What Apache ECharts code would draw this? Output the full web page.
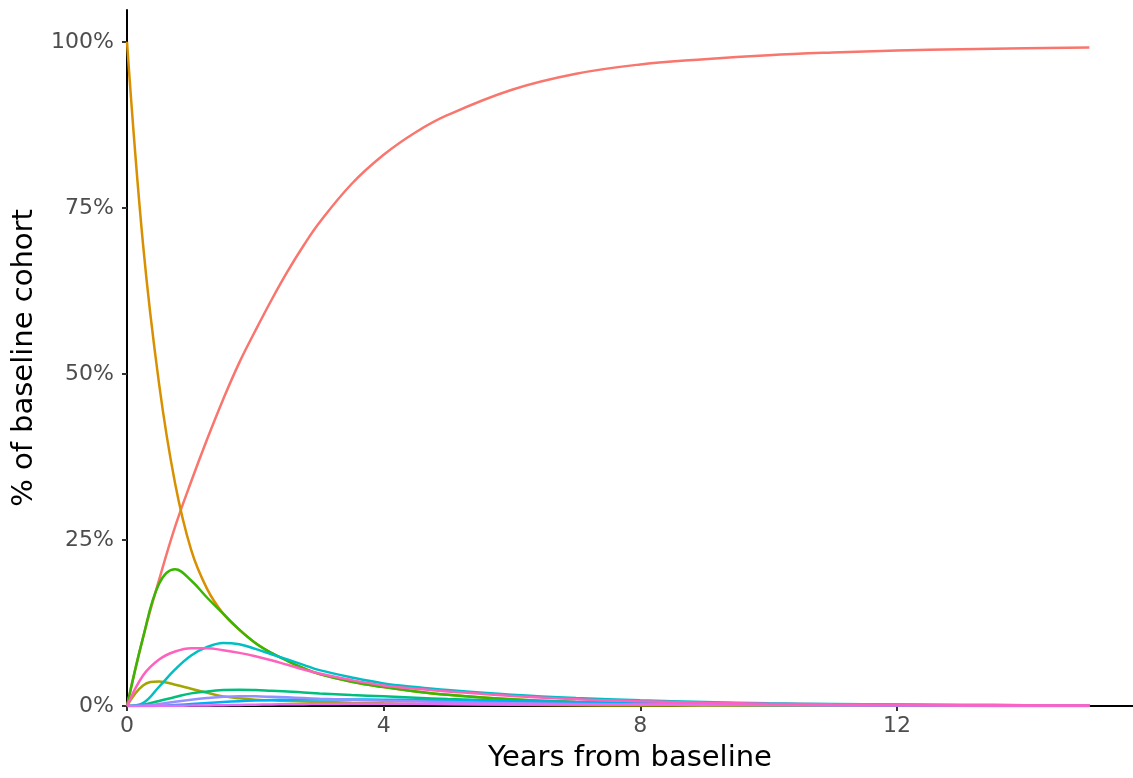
<!DOCTYPE html>
<html>
<head>
<meta charset="utf-8">
<script src="https://cdn.jsdelivr.net/npm/echarts@6/dist/echarts.min.js"></script>
<style>html,body{margin:0;padding:0;background:#fff;}#c{width:1133px;height:778px;}</style>
</head>
<body>
<div id="c"></div>
<script>
const years  = [0, 0.25, 0.5, 0.75, 1, 1.25, 1.5, 1.75, 2, 2.25, 2.5, 2.75, 3, 3.5, 4, 4.5, 5, 6, 7, 8, 9, 10, 11, 12, 13, 14, 15];
const state1 = [0, 10.3, 19, 27, 33.8, 40.2, 46.2, 51.7, 56.5, 61.1, 65.4, 69.3, 72.8, 78.6, 83, 86.4, 89, 92.8, 95.2, 96.6, 97.4, 98, 98.4, 98.7, 98.9, 99.05, 99.15];
const state2 = [100, 69.5, 48.5, 33.5, 23.5, 17.6, 13.9, 11.5, 9.5, 8.0, 6.8, 5.7, 4.8, 3.65, 2.85, 2.2, 1.7, 1.0, 0.58, 0.34, 0.2, 0.12, 0.07, 0.04, 0.02, 0.01, 0.01];
const state3 = [0, 3.1, 3.7, 3.2, 2.6, 2.0, 1.45, 1.15, 0.95, 0.85, 0.75, 0.68, 0.62, 0.5, 0.4, 0.32, 0.26, 0.17, 0.11, 0.07, 0.05, 0.03, 0.02, 0.02, 0.01, 0.01, 0.01];
const state4 = [0, 10.3, 18.4, 20.6, 18.9, 16.3, 13.9, 11.5, 9.5, 8.0, 6.8, 5.7, 4.8, 3.65, 2.85, 2.2, 1.7, 1.0, 0.58, 0.34, 0.2, 0.12, 0.07, 0.04, 0.02, 0.01, 0.01];
const state5 = [0, 0.2, 0.75, 1.35, 1.9, 2.2, 2.4, 2.45, 2.4, 2.3, 2.2, 2.05, 1.9, 1.65, 1.45, 1.25, 1.05, 0.75, 0.55, 0.4, 0.28, 0.2, 0.15, 0.1, 0.08, 0.06, 0.04];
const state6 = [0, 0.45, 2.9, 5.5, 7.6, 8.9, 9.5, 9.3, 8.6, 7.8, 7.0, 6.2, 5.4, 4.3, 3.4, 2.85, 2.4, 1.7, 1.2, 0.85, 0.6, 0.42, 0.3, 0.22, 0.16, 0.12, 0.09];
const state7 = [0, 0.01, 0.05, 0.15, 0.3, 0.45, 0.6, 0.72, 0.82, 0.9, 0.95, 0.98, 1.0, 0.98, 0.95, 0.9, 0.85, 0.72, 0.6, 0.48, 0.38, 0.3, 0.24, 0.19, 0.15, 0.12, 0.1];
const state8 = [0, 0.05, 0.3, 0.65, 0.95, 1.2, 1.4, 1.48, 1.45, 1.38, 1.3, 1.2, 1.1, 0.95, 0.8, 0.7, 0.6, 0.42, 0.3, 0.22, 0.16, 0.12, 0.09, 0.07, 0.05, 0.04, 0.03];
const state9 = [0, 0, 0.02, 0.04, 0.06, 0.09, 0.12, 0.16, 0.2, 0.23, 0.26, 0.28, 0.3, 0.32, 0.33, 0.33, 0.33, 0.3, 0.27, 0.23, 0.2, 0.17, 0.14, 0.12, 0.1, 0.08, 0.07];
const state10 = [0, 4.6, 7.0, 8.2, 8.7, 8.7, 8.4, 8.0, 7.5, 6.9, 6.2, 5.5, 4.9, 3.9, 3.1, 2.6, 2.2, 1.5, 1.0, 0.7, 0.5, 0.35, 0.25, 0.18, 0.13, 0.1, 0.07];

const seriesNames = ['State 1','State 2','State 3','State 4','State 5','State 6','State 7','State 8','State 9','State 10'];
const seriesValues = [state1, state2, state3, state4, state5, state6, state7, state8, state9, state10];
const colors = ['#F8766D','#D89000','#A3A500','#39B600','#00BF7D','#00BFC4','#00B0F6','#9590FF','#E76BF3','#FF62BC'];

const chart = echarts.init(document.getElementById('c'), null, {renderer: 'canvas'});
const font = 'DejaVu Sans';
chart.setOption({
  animation: false,
  backgroundColor: '#ffffff',
  grid: {left: 127, right: 0, top: 10, bottom: 72, containLabel: false},
  xAxis: {
    type: 'value', min: 0, max: 15.68, interval: 4,
    name: 'Years from baseline', nameLocation: 'middle', nameGap: 38,
    nameTextStyle: {fontFamily: font, fontSize: 29, color: '#000'},
    axisLine: {show: true, onZero: false, lineStyle: {color: '#000', width: 2}},
    axisTick: {show: true, length: 5, lineStyle: {color: '#333', width: 2}},
    axisLabel: {fontFamily: font, fontSize: 22, color: '#4D4D4D', margin: 9, showMaxLabel: false},
    splitLine: {show: false}
  },
  yAxis: {
    type: 'value', min: 0, max: 104.8, interval: 25,
    name: '% of baseline cohort', nameLocation: 'middle', nameGap: 88,
    nameTextStyle: {fontFamily: font, fontSize: 29, color: '#000'},
    axisLine: {show: true, lineStyle: {color: '#000', width: 2}},
    axisTick: {show: true, length: 5, lineStyle: {color: '#333', width: 2}},
    axisLabel: {fontFamily: font, fontSize: 22, color: '#4D4D4D', margin: 13, showMaxLabel: false, formatter: '{value}%'},
    splitLine: {show: false}
  },
  series: seriesNames.map((n, i) => ({
    name: n, type: 'line', showSymbol: false, smooth: 0.4,
    data: years.map((t, j) => [t, seriesValues[i][j]]),
    lineStyle: {color: colors[i], width: 2.5},
    itemStyle: {color: colors[i]}
  }))
});
</script>
</body>
</html>
